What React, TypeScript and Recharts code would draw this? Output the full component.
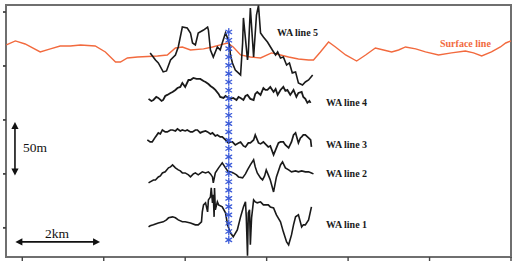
import React from 'react';
import { ComposedChart, Line, Scatter, XAxis, YAxis, ReferenceArea, ReferenceLine } from 'recharts';

// distance along profile (km) / elevation (m)
const xTicks = [0, 2, 4, 6, 8, 10, 12];
const yTicks = [0, 50, 100, 150, 200];

const surfaceLine: [number, number][] = [[-0.39,169.5],[-0.17,173.2],[0.07,170.4],[0.44,163.0],[0.69,165.8],[0.93,168.5],[1.18,168.5],[1.43,169.5],[1.79,168.5],[2.04,163.0],[2.29,153.7],[2.41,153.7],[2.58,157.4],[2.83,158.3],[3.32,159.3],[3.56,160.2],[3.76,166.7],[3.93,167.6],[4.13,164.8],[4.45,165.8],[4.67,167.6],[4.86,169.5],[5.04,171.3],[5.18,167.6],[5.36,160.2],[5.60,158.3],[5.85,157.4],[6.12,162.1],[6.34,160.2],[6.54,158.3],[6.78,156.5],[7.03,155.6],[7.15,155.6],[7.32,163.0],[7.52,172.2],[7.69,167.6],[7.94,160.2],[8.21,154.6],[8.43,160.2],[8.67,166.7],[8.87,164.8],[9.07,163.0],[9.24,164.8],[9.41,167.6],[9.66,165.8],[9.90,163.0],[10.22,160.2],[10.54,162.1],[10.88,163.9],[11.08,162.1],[11.28,159.3],[11.52,163.0],[11.74,167.6],[11.87,171.3],[12.0,173.2]];

const waLine5: [number, number][] = [[3.14,162.1],[3.27,155.6],[3.34,152.8],[3.46,144.5],[3.54,145.4],[3.64,155.6],[3.76,160.2],[3.83,167.6],[3.93,186.1],[4.05,185.2],[4.13,180.6],[4.18,171.3],[4.25,169.5],[4.32,180.6],[4.45,183.3],[4.55,186.1],[4.57,183.3],[4.62,164.8],[4.69,158.3],[4.79,167.6],[4.86,164.8],[4.91,171.3],[4.99,180.6],[5.04,175.9],[5.09,169.5],[5.11,160.2],[5.16,152.8],[5.23,146.3],[5.36,141.7],[5.41,171.3],[5.43,194.5],[5.53,155.6],[5.55,162.1],[5.60,203.7],[5.68,158.3],[5.75,197.2],[5.80,206.0],[5.85,180.6],[5.92,176.9],[6.02,172.2],[6.14,164.8],[6.22,160.2],[6.27,163.0],[6.34,157.4],[6.41,158.3],[6.49,150.9],[6.56,152.8],[6.63,143.6],[6.71,144.5],[6.78,134.3],[6.88,132.4],[6.95,135.2],[7.03,137.0],[7.13,141.7]];

const waLine4: [number, number][] = [[3.10,119.5],[3.17,117.6],[3.22,118.5],[3.29,121.3],[3.34,120.4],[3.42,117.6],[3.46,118.5],[3.51,122.2],[3.56,123.2],[3.64,125.0],[3.69,125.9],[3.76,127.8],[3.81,129.6],[3.88,130.6],[3.93,134.3],[4.00,130.6],[4.08,137.0],[4.13,137.0],[4.20,138.9],[4.28,138.0],[4.37,138.0],[4.45,136.1],[4.50,135.2],[4.57,133.3],[4.62,131.5],[4.69,129.6],[4.74,127.8],[4.82,124.1],[4.86,121.3],[4.94,120.4],[4.99,122.2],[5.06,120.4],[5.11,119.5],[5.18,120.4],[5.26,118.5],[5.31,121.3],[5.36,120.4],[5.43,118.5],[5.48,122.2],[5.53,123.2],[5.60,119.5],[5.68,118.5],[5.72,124.1],[5.77,125.9],[5.85,123.2],[5.92,129.6],[5.97,127.8],[6.02,127.8],[6.09,130.6],[6.17,125.9],[6.22,128.7],[6.27,123.2],[6.34,127.8],[6.41,130.6],[6.46,126.9],[6.51,127.8],[6.58,123.2],[6.66,127.8],[6.73,121.3],[6.78,125.0],[6.86,125.9],[6.90,121.3],[6.95,119.5],[7.00,115.8],[7.05,117.6],[7.08,115.8]];

const waLine3: [number, number][] = [[3.07,81.5],[3.14,79.6],[3.19,79.6],[3.27,84.3],[3.34,88.0],[3.39,87.0],[3.44,90.7],[3.51,88.9],[3.56,88.9],[3.64,90.7],[3.69,90.7],[3.76,89.8],[3.81,91.7],[3.88,89.8],[3.93,90.7],[4.00,89.8],[4.05,90.7],[4.13,88.9],[4.18,88.9],[4.25,90.7],[4.30,90.7],[4.37,88.0],[4.42,88.9],[4.50,89.8],[4.55,88.9],[4.62,87.0],[4.67,88.0],[4.74,85.2],[4.79,86.1],[4.86,84.3],[4.91,84.3],[4.99,81.5],[5.06,78.7],[5.11,79.6],[5.16,79.6],[5.23,76.9],[5.31,78.7],[5.36,79.6],[5.43,75.9],[5.48,75.0],[5.55,78.7],[5.60,78.7],[5.68,81.5],[5.72,86.1],[5.80,78.7],[5.85,77.8],[5.92,79.6],[5.99,76.9],[6.04,75.0],[6.09,75.9],[6.17,67.6],[6.24,74.1],[6.29,78.7],[6.34,79.6],[6.41,79.6],[6.46,76.9],[6.54,74.1],[6.61,79.6],[6.66,86.1],[6.71,88.0],[6.78,78.7],[6.83,83.3],[6.86,84.3],[6.90,86.1],[6.95,86.1],[7.03,83.3],[7.08,81.5],[7.10,75.0]];

const waLine2: [number, number][] = [[3.10,41.7],[3.14,42.6],[3.22,44.4],[3.27,44.4],[3.34,47.2],[3.39,48.2],[3.44,50.9],[3.51,51.9],[3.59,55.6],[3.64,56.5],[3.69,58.3],[3.76,55.6],[3.83,53.7],[3.88,52.8],[3.93,50.9],[4.00,50.9],[4.08,49.1],[4.13,47.2],[4.20,50.0],[4.25,50.9],[4.32,49.1],[4.42,51.9],[4.50,50.9],[4.57,51.9],[4.62,50.0],[4.67,47.2],[4.69,41.7],[4.74,50.9],[4.82,55.6],[4.91,60.2],[4.99,55.6],[5.06,51.9],[5.11,51.9],[5.18,50.9],[5.26,49.1],[5.31,47.2],[5.41,46.3],[5.48,50.0],[5.53,53.7],[5.60,58.3],[5.68,63.0],[5.72,56.5],[5.77,50.9],[5.85,46.3],[5.90,44.4],[5.95,48.2],[5.99,53.7],[6.04,49.1],[6.09,44.4],[6.17,33.3],[6.24,47.2],[6.34,58.3],[6.39,61.1],[6.46,55.6],[6.54,53.7],[6.61,51.9],[6.71,52.8],[6.78,51.9],[6.86,52.8],[6.95,51.9],[7.03,51.9],[7.10,50.9],[7.15,50.0]];

const waLine1: [number, number][] = [[3.10,0.9],[3.14,1.9],[3.22,2.8],[3.34,4.6],[3.46,5.6],[3.54,7.4],[3.59,9.3],[3.69,10.2],[3.76,9.3],[3.83,7.4],[3.93,5.6],[4.00,5.6],[4.13,4.6],[4.25,2.8],[4.32,2.8],[4.40,5.6],[4.42,14.8],[4.45,21.3],[4.50,23.2],[4.55,14.8],[4.57,25.9],[4.62,28.7],[4.64,37.0],[4.67,23.2],[4.69,30.6],[4.71,10.2],[4.72,37.0],[4.74,16.7],[4.79,24.1],[4.82,21.3],[4.91,19.4],[4.99,13.9],[5.04,2.8],[5.11,-4.6],[5.18,-8.3],[5.28,-1.9],[5.36,10.2],[5.43,19.4],[5.48,24.1],[5.50,10.2],[5.53,-25.9],[5.55,13.9],[5.58,16.7],[5.60,-15.7],[5.63,9.3],[5.68,25.9],[5.72,24.1],[5.77,23.2],[5.85,24.1],[5.92,21.3],[6.04,21.3],[6.09,19.4],[6.17,18.5],[6.24,12.0],[6.34,5.6],[6.41,-3.7],[6.49,-13.0],[6.54,-15.7],[6.61,-6.5],[6.66,2.8],[6.71,10.2],[6.78,12.0],[6.86,0.9],[6.90,2.8],[6.95,2.8],[7.03,7.4],[7.10,19.4]];

const markerX = 5.07;
const markerY = [181.5,173.8,166.1,158.3,150.6,142.9,135.2,127.5,119.7,112.0,104.3,96.6,88.9,81.3,73.5,65.8,58.1,50.4,42.7,35.0,27.3,19.7,12.0,4.3,-3.4,-11.1];

const toPts = (a: [number, number][]) => a.map(([x, y]) => ({ x, y }));
const markerPts = markerY.map((y) => ({ x: markerX, y }));

const SERIF = "'Liberation Serif', 'DejaVu Serif', serif";

const Asterisk = (props: any) => {
  const { cx, cy } = props;
  if (cx == null || cy == null) return null;
  const r = 3.4;
  const d = r * 0.85;
  return (
    <g stroke="#3a5ad8" strokeWidth={1.3} strokeLinecap="round">
      <line x1={cx} y1={cy - r} x2={cx} y2={cy + r} />
      <line x1={cx - d} y1={cy - d * 0.6} x2={cx + d} y2={cy + d * 0.6} />
      <line x1={cx - d} y1={cy + d * 0.6} x2={cx + d} y2={cy - d * 0.6} />
    </g>
  );
};

const DoubleArrow = (props: any) => {
  const { x1, y1, x2, y2 } = props;
  const dx = x2 - x1;
  const dy = y2 - y1;
  const len = Math.sqrt(dx * dx + dy * dy) || 1;
  const ux = dx / len;
  const uy = dy / len;
  const px = -uy;
  const py = ux;
  const h = 7;
  const w = 3.6;
  const head = (tx: number, ty: number, dir: number) => {
    const bx = tx - dir * ux * h;
    const by = ty - dir * uy * h;
    return `${tx},${ty} ${bx + px * w},${by + py * w} ${bx - px * w},${by - py * w}`;
  };
  return (
    <g>
      <line x1={x1 + ux * 4} y1={y1 + uy * 4} x2={x2 - ux * 4} y2={y2 - uy * 4} stroke="#111" strokeWidth={1.6} />
      <polygon points={head(x2, y2, 1)} fill="#111" />
      <polygon points={head(x1, y1, -1)} fill="#111" />
    </g>
  );
};

const blank = () => '';

export default function App() {
  return (
    <div style={{ position: 'absolute', left: 0, top: 0, width: 517, height: 263, background: '#fff' }}>
      <ComposedChart width={517} height={263} margin={{ top: 5, right: 6, bottom: 0, left: 0 }}>
        <XAxis
          type="number"
          dataKey="x"
          domain={[-0.4, 12]}
          ticks={xTicks}
          allowDataOverflow
          height={6}
          axisLine={false}
          tickSize={4}
          tickLine={{ stroke: '#444', strokeWidth: 1.4 }}
          tickFormatter={blank}
        />
        <YAxis
          type="number"
          dataKey="y"
          domain={[-27, 206.5]}
          ticks={yTicks}
          allowDataOverflow
          width={6}
          axisLine={false}
          tickSize={3}
          tickLine={{ stroke: '#444', strokeWidth: 1.8 }}
          tickFormatter={blank}
        />
        <ReferenceArea x1={-0.4} x2={12} y1={-27} y2={206.5} fill="none" fillOpacity={0} stroke="#6f6f6f" strokeWidth={2} />
        <Line data={toPts(surfaceLine)} dataKey="y" stroke="#f26a3e" strokeWidth={1.4} dot={false} isAnimationActive={false} />
        <Line data={toPts(waLine5)} dataKey="y" stroke="#1a1a1a" strokeWidth={1.6} dot={false} isAnimationActive={false} />
        <Line data={toPts(waLine4)} dataKey="y" stroke="#1a1a1a" strokeWidth={1.8} dot={false} isAnimationActive={false} />
        <Line data={toPts(waLine3)} dataKey="y" stroke="#1a1a1a" strokeWidth={1.7} dot={false} isAnimationActive={false} />
        <Line data={toPts(waLine2)} dataKey="y" stroke="#1a1a1a" strokeWidth={1.6} dot={false} isAnimationActive={false} />
        <Line data={toPts(waLine1)} dataKey="y" stroke="#1a1a1a" strokeWidth={1.6} dot={false} isAnimationActive={false} />
        <Scatter data={markerPts} dataKey="y" shape={Asterisk} isAnimationActive={false} />
        <ReferenceLine segment={[{ x: -0.17, y: -13 }, { x: 1.91, y: -13 }]} shape={DoubleArrow} />
        <ReferenceLine segment={[{ x: -0.18, y: 98 }, { x: -0.18, y: 48.5 }]} shape={DoubleArrow} />
      </ComposedChart>
      <svg width={517} height={263} style={{ position: 'absolute', left: 0, top: 0, pointerEvents: 'none' }}>
        <g fontFamily={SERIF} fontWeight="bold" fontSize={10} fill="#1a1a1a">
          <text x={277} y={35.5}>WA line 5</text>
          <text x={326} y={105.5}>WA line 4</text>
          <text x={326} y={147.5}>WA line 3</text>
          <text x={326} y={177}>WA line 2</text>
          <text x={326} y={228}>WA line 1</text>
          <text x={440} y={46.5} fill="#f26a3e">Surface line</text>
        </g>
        <g fontFamily={SERIF} fontSize={13.5} fill="#111">
          <text x={23} y={151.5}>50m</text>
          <text x={45} y={237.5}>2km</text>
        </g>
      </svg>
    </div>
  );
}
